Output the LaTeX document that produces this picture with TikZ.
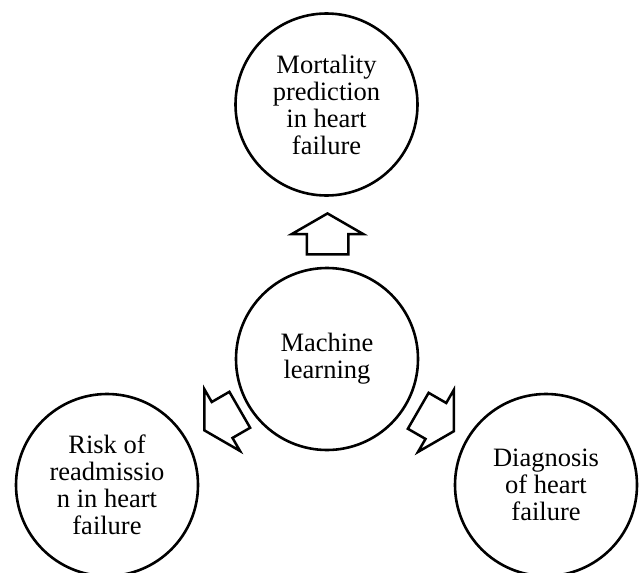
\documentclass[tikz,border=0pt]{standalone}
\usepackage{fontspec}
\setmainfont{Liberation Serif}
\usetikzlibrary{shapes.arrows}
\begin{document}
\begin{tikzpicture}[x=1pt,y=-1pt,
  topic/.style={circle,draw=black,line width=2.6pt,minimum size=182pt,inner sep=0pt,
    align=center,font=\fontsize{26.5}{27}\selectfont},
  blockarrow/.style={single arrow,draw=black,line width=2.5pt,fill=white,
    inner xsep=0pt,inner ysep=19.5pt,minimum width=1pt,minimum height=41pt,
    single arrow head extend=15pt,single arrow tip angle=120,anchor=tip}]
\useasboundingbox (0,0) rectangle (640,573);
\node[topic] (mort) at (326.5,104.5) {Mortality\\prediction\\in heart\\failure};
\node[topic] (ml) at (327,359) {Machine\\learning};
\node[topic] (risk) at (107,485) {Risk of\\readmissio\\n in heart\\failure};
\node[topic] (diag) at (546,485) {Diagnosis\\of heart\\failure};
\node[blockarrow,rotate=90] (aup) at (327.5,212) {};
\node[blockarrow,rotate=210] (aleft) at (203,431) {};
\node[blockarrow,rotate=-30] (aright) at (455,432) {};
\end{tikzpicture}
\end{document}
